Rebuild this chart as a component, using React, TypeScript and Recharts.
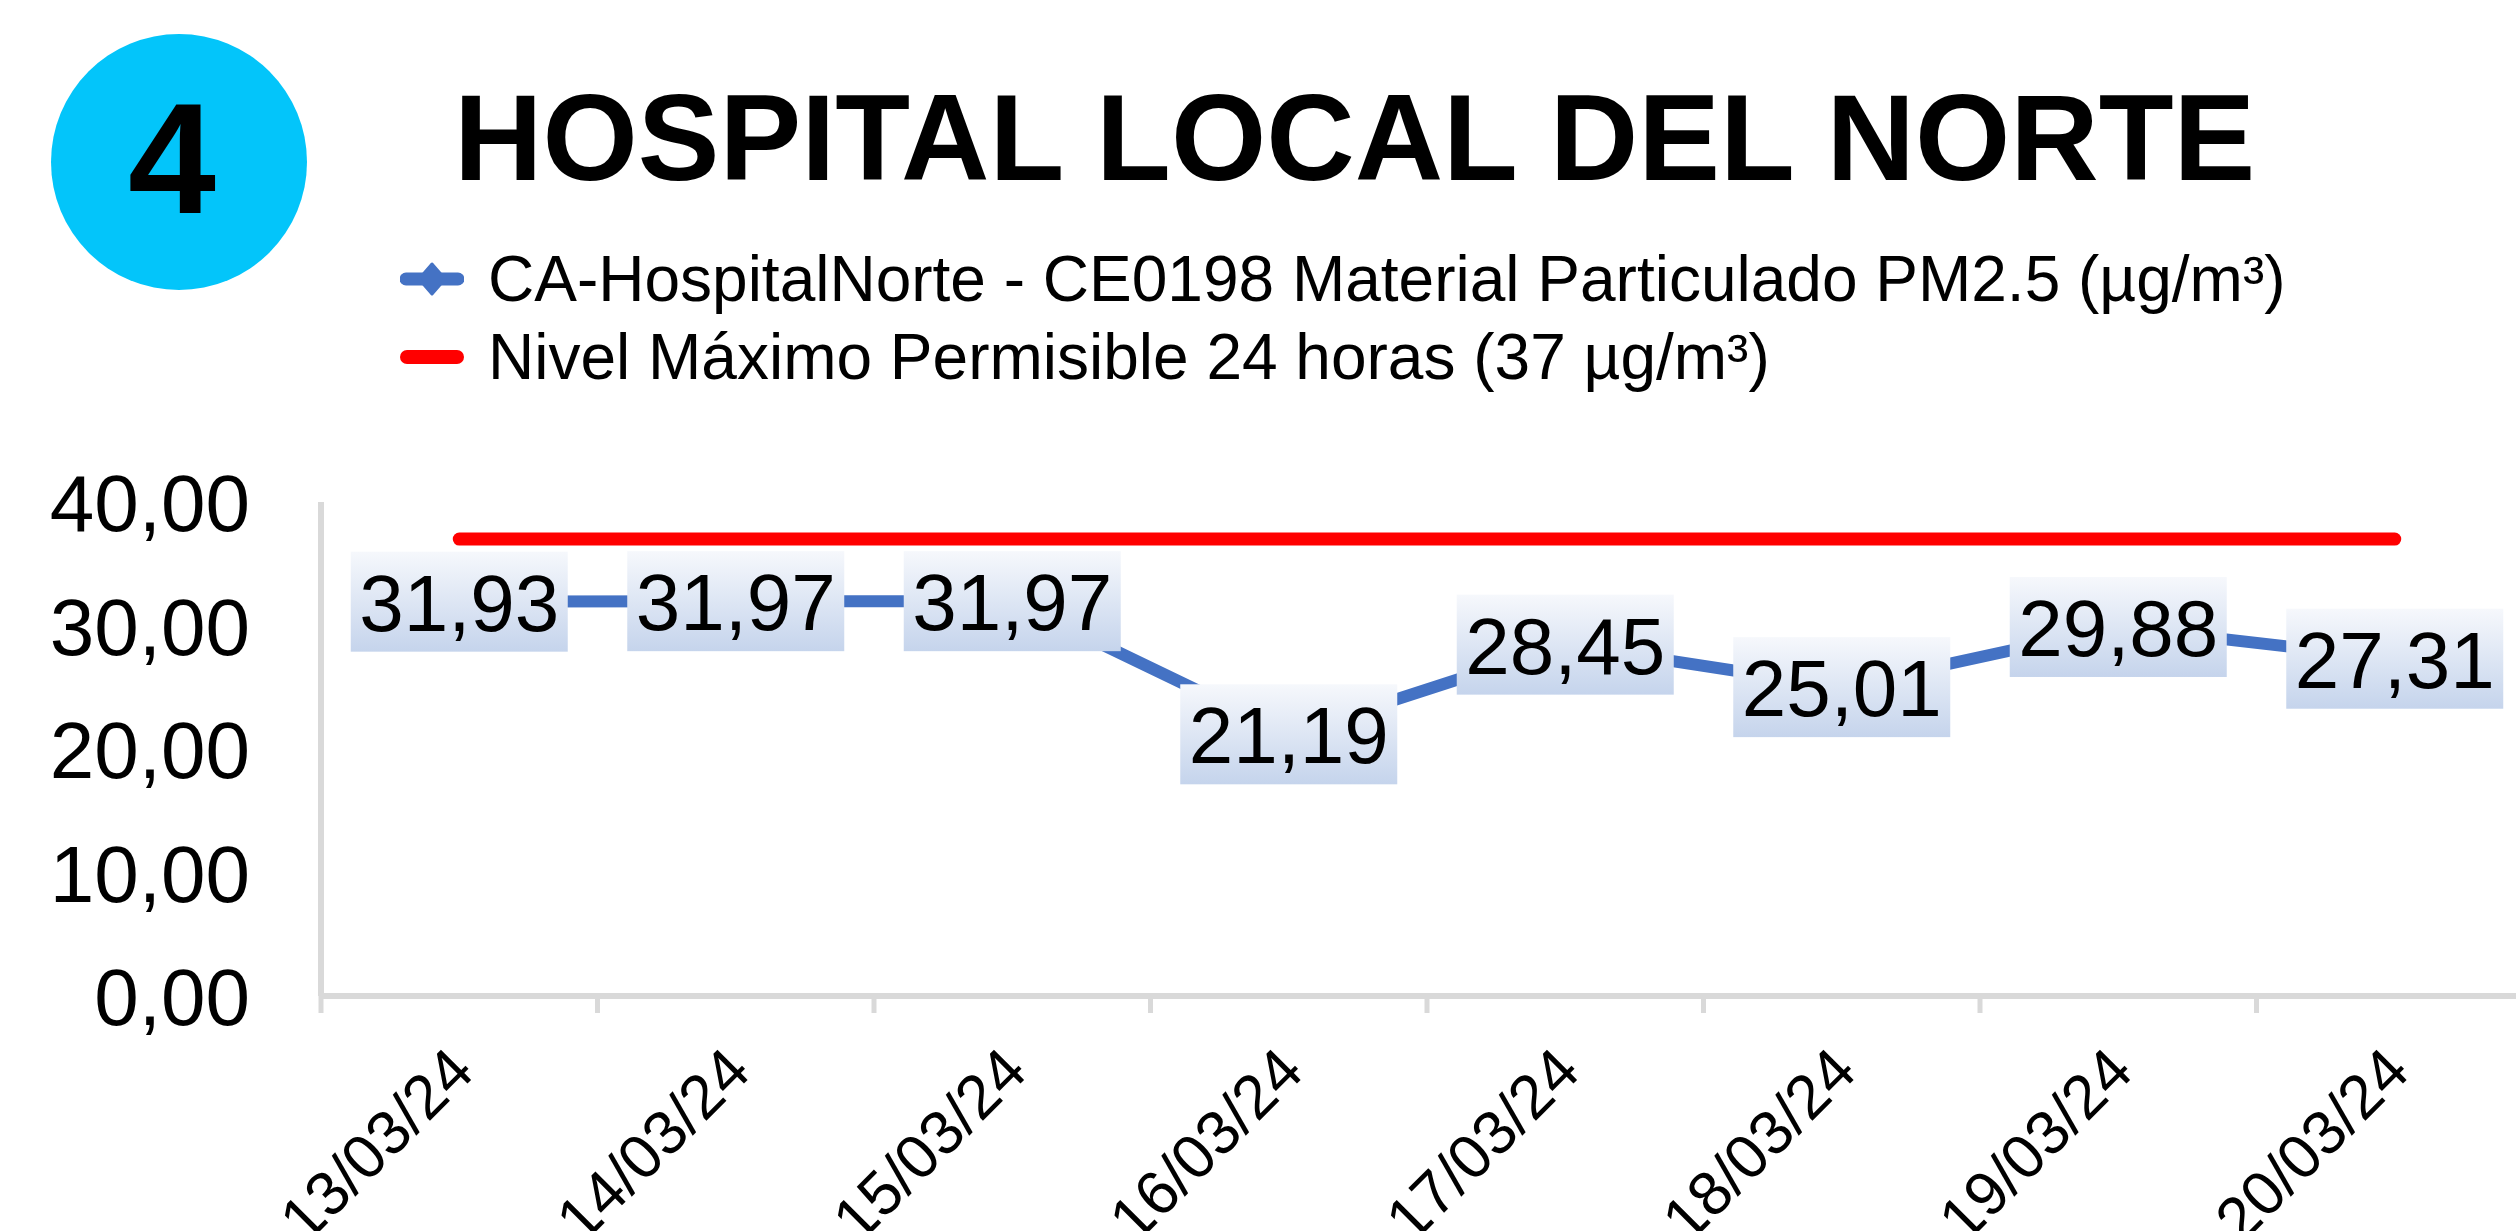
import React from "react";
import { LineChart, Line, XAxis, YAxis, Legend, LabelList } from "recharts";

const dates = ["13/03/24", "14/03/24", "15/03/24", "16/03/24", "17/03/24", "18/03/24", "19/03/24", "20/03/24"];
const pm25 = [31.93, 31.97, 31.97, 21.19, 28.45, 25.01, 29.88, 27.31];
const limit24h = [37, 37, 37, 37, 37, 37, 37, 37];
const yTicks = [0, 10, 20, 30, 40];

const SERIES_PM = "CA-HospitalNorte - CE0198 Material Particulado PM2.5 (µg/m³)";
const SERIES_LIMIT = "Nivel Máximo Permisible 24 horas (37 µg/m³)";

const data = dates.map((d, i) => ({ date: d, pm: pm25[i], limit: limit24h[i] }));

const FONT = "'Liberation Sans', Arial, sans-serif";
const CHART_W = 2540;
const CHART_H = 1231;
const Y_W = 321;
const BAND = (CHART_W - Y_W - 7) / dates.length;

const fmt = (v: number) => v.toFixed(2).replace(".", ",");

const YTick = ({ x, y, payload }: any) => (
  <text x={x - 71} y={y} dy={29} textAnchor="end" fontSize={80} fill="#000" style={{ fontFamily: FONT }}>
    {fmt(payload.value)}
  </text>
);

const XTick = ({ x, y, payload, index }: any) => {
  const ax = x + 2;
  const ay = y + 63;
  return (
    <g>
      <line x1={x - BAND / 2} x2={x - BAND / 2} y1={y} y2={y + 17} stroke="#d9d9d9" strokeWidth={5} />
      {index === dates.length - 1 && (
        <line x1={x + BAND / 2} x2={x + BAND / 2} y1={y} y2={y + 17} stroke="#d9d9d9" strokeWidth={5} />
      )}
      <text
        x={ax}
        y={ay}
        dy="0.35em"
        textAnchor="end"
        fontSize={62}
        fill="#000"
        transform={`rotate(-45, ${ax}, ${ay})`}
        style={{ fontFamily: FONT }}
      >
        {payload.value}
      </text>
    </g>
  );
};

const ValueLabel = ({ x, y, value }: any) => (
  <g>
    <rect x={x - 108.5} y={y - 50} width={217} height={100} fill="url(#lblGrad)" />
    <text x={x} y={y} dy={29} textAnchor="middle" fontSize={80} fill="#000" style={{ fontFamily: FONT }}>
      {fmt(value)}
    </text>
  </g>
);

const LegendBox = () => (
  <div style={{ position: "absolute", left: 400, top: 240, fontFamily: FONT, fontSize: 64, color: "#000" }}>
    <div style={{ display: "flex", alignItems: "center", height: 78, lineHeight: "79px", whiteSpace: "nowrap" }}>
      <svg width={64} height={40} style={{ marginRight: 24 }}>
        <line x1={6} x2={58} y1={20} y2={20} stroke="#4472C4" strokeWidth={13} strokeLinecap="round" />
        <path d="M32,5 L45,20 L32,35 L19,20 Z" fill="#4472C4" stroke="#4472C4" strokeWidth={3} strokeLinejoin="round" />
      </svg>
      <span>{SERIES_PM}</span>
    </div>
    <div style={{ display: "flex", alignItems: "center", height: 78, lineHeight: "79px", whiteSpace: "nowrap" }}>
      <svg width={64} height={40} style={{ marginRight: 24 }}>
        <line x1={7} x2={57} y1={20} y2={20} stroke="#FF0000" strokeWidth={14} strokeLinecap="round" />
      </svg>
      <span>{SERIES_LIMIT}</span>
    </div>
  </div>
);

export default function App() {
  return (
    <div
      style={{
        position: "absolute",
        left: 0,
        top: 0,
        width: 2516,
        height: 1231,
        overflow: "hidden",
        background: "#fff",
        fontFamily: FONT,
      }}
    >
      <LineChart width={CHART_W} height={CHART_H} data={data} margin={{ top: 502, right: 7, bottom: 0, left: 0 }}>
        <XAxis
          dataKey="date"
          height={235}
          padding={{ left: BAND / 2, right: BAND / 2 }}
          tickSize={0}
          tickMargin={0}
          tickLine={false}
          axisLine={{ stroke: "#d9d9d9", strokeWidth: 6 }}
          tick={<XTick />}
          interval={0}
        />
        <YAxis
          width={Y_W}
          domain={[0, 40]}
          ticks={yTicks}
          tickSize={0}
          tickMargin={0}
          tickLine={false}
          axisLine={{ stroke: "#d9d9d9", strokeWidth: 6 }}
          tick={<YTick />}
        />
        <Legend
          layout="horizontal"
          verticalAlign="middle"
          align="center"
          wrapperStyle={{ position: "absolute", left: 0, top: 0, width: 0, height: 0 }}
          content={() => <LegendBox />}
        />
        <Line
          dataKey="pm"
          name={SERIES_PM}
          stroke="#4472C4"
          strokeWidth={12}
          strokeLinecap="round"
          dot={false}
          isAnimationActive={false}
        >
          <LabelList dataKey="pm" content={<ValueLabel />} />
        </Line>
        <Line
          dataKey="limit"
          name={SERIES_LIMIT}
          stroke="#FF0000"
          strokeWidth={13}
          strokeLinecap="round"
          dot={false}
          isAnimationActive={false}
        />
      </LineChart>
      <svg
        width={2516}
        height={320}
        style={{ position: "absolute", left: 0, top: 0, pointerEvents: "none" }}
      >
        <defs>
          <linearGradient id="lblGrad" x1="0" y1="0" x2="0" y2="1">
            <stop offset="0%" stopColor="#f6f8fc" />
            <stop offset="100%" stopColor="#c5d4ec" />
          </linearGradient>
        </defs>
        <circle cx={179} cy={162} r={128} fill="#03C5FA" />
        <text x={172} y={213} textAnchor="middle" fontSize={158} fontWeight="bold" fill="#000" style={{ fontFamily: FONT }}>
          4
        </text>
        <text x={454} y={180} fontSize={122.5} fontWeight="bold" fill="#000" style={{ fontFamily: FONT }}>
          HOSPITAL LOCAL DEL NORTE
        </text>
      </svg>
    </div>
  );
}
